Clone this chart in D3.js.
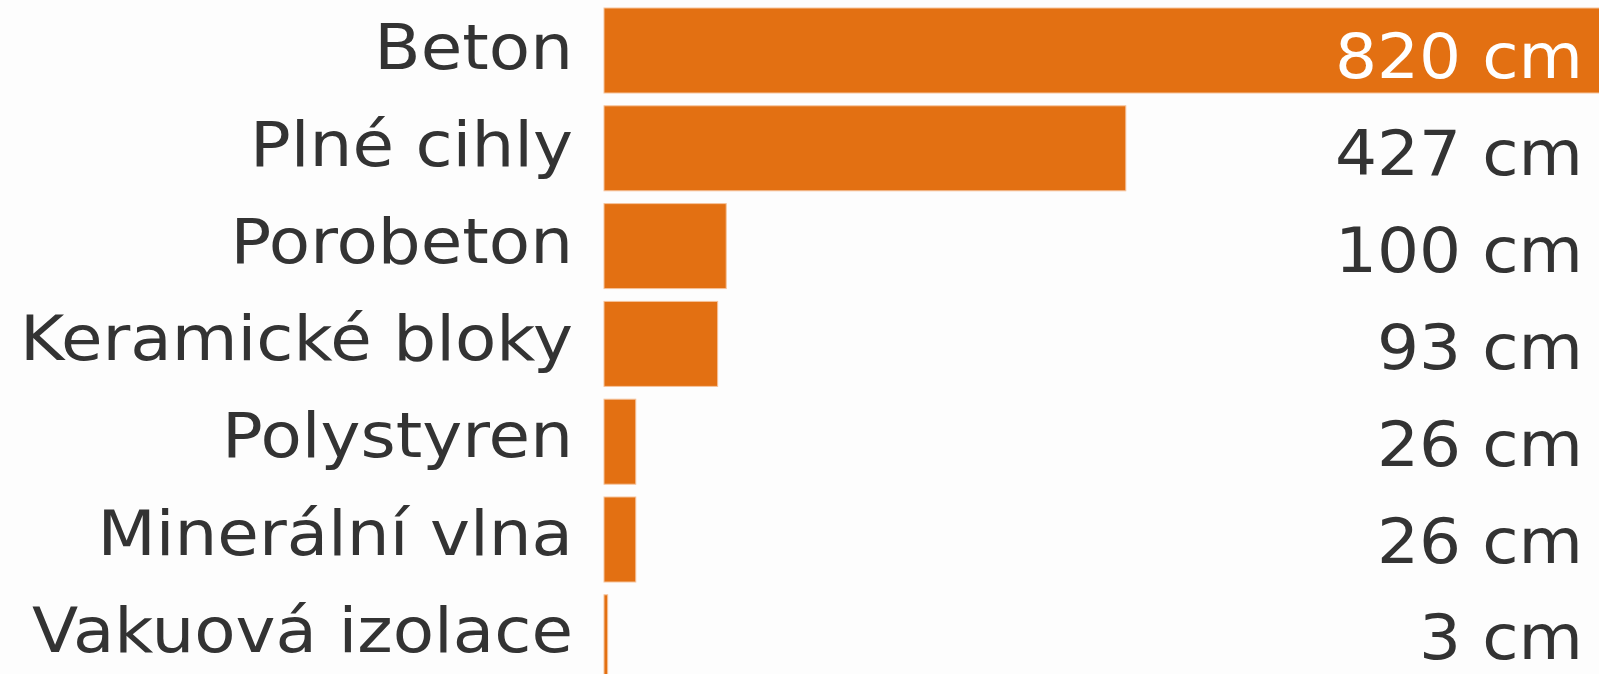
<!DOCTYPE html>
<html>
<head>
<meta charset="utf-8">
<script src="https://cdn.jsdelivr.net/npm/d3@7"></script>
<style>
  html, body { margin: 0; padding: 0; background: #fdfdfd; overflow: hidden; }
  svg { display: block; }
  text { font-family: "DejaVu Sans", sans-serif; }
</style>
</head>
<body>
<svg class="chart"></svg>
<script>
// Tloušťka zdi pro stejný tepelný odpor
var categories = ["Beton", "Plné cihly", "Porobeton", "Keramické bloky", "Polystyren", "Minerální vlna", "Vakuová izolace"];
var values = [820, 427, 100, 93, 26, 26, 3];
var valueLabels = ["820 cm", "427 cm", "100 cm", "93 cm", "26 cm", "26 cm", "3 cm"];

function widen (selection, factor) { // stretch text a bit, the original font is wider than what we have
    selection.each(function () {
        var len = this.getComputedTextLength();
        d3.select(this)
            .attr("textLength", len * factor)
            .attr("lengthAdjust", "spacingAndGlyphs");
    });
}

window.onload = function () {
    var width = 1599, height = 674;
    var barLeft = 604;   // bars start here, labels sit to the left
    var orange = "#e37012";
    var textColor = "#333333";

    var svg = d3.select("svg.chart")
        .attr("width", width)
        .attr("height", height);

    var y = d3.scaleBand()
        .domain(categories)
        .range([1.6, 1.6 + 7 * 97.8])
        .paddingInner(0.131)
        .paddingOuter(0.0655);

    var x = d3.scaleLinear()
        .domain([0, 820])
        .range([barLeft, barLeft + 820 * 1.222]);

    var rows = categories.map(function (c, i) {
        return { name: c, value: values[i], label: valueLabels[i] };
    });

    // bars
    svg.selectAll("rect.bar")
        .data(rows)
        .enter().append("rect")
        .attr("class", "bar")
        .attr("x", x(0))
        .attr("y", function (d) { return y(d.name); })
        .attr("width", function (d) { return x(d.value) - x(0); })
        .attr("height", y.bandwidth())
        .attr("fill", orange)
        .attr("stroke", "#f6c39b")
        .attr("stroke-width", 1);

    // category labels on the left
    svg.selectAll("text.cat")
        .data(rows)
        .enter().append("text")
        .attr("class", "cat")
        .attr("x", 573)
        .attr("y", function (d, i) { return y(d.name) + y.bandwidth() / 2 + 18 - i * 0.6; })
        .attr("text-anchor", "end")
        .attr("font-size", 62)
        .attr("fill", textColor)
        .text(function (d) { return d.name; })
        .call(widen, 1.09);

    // value labels at the right edge; the first one is inside the long bar, so it's white
    svg.selectAll("text.val")
        .data(rows)
        .enter().append("text")
        .attr("class", "val")
        .attr("x", 1583)
        .attr("y", function (d, i) { return y(d.name) + y.bandwidth() / 2 + 27.5 - i * 0.9; })
        .attr("text-anchor", "end")
        .attr("font-size", 63)
        .attr("fill", function (d) { return x(d.value) > 1400 ? "#ffffff" : textColor; })
        .text(function (d) { return d.label; })
        .call(widen, 1.05);
};
</script>
</body>
</html>
